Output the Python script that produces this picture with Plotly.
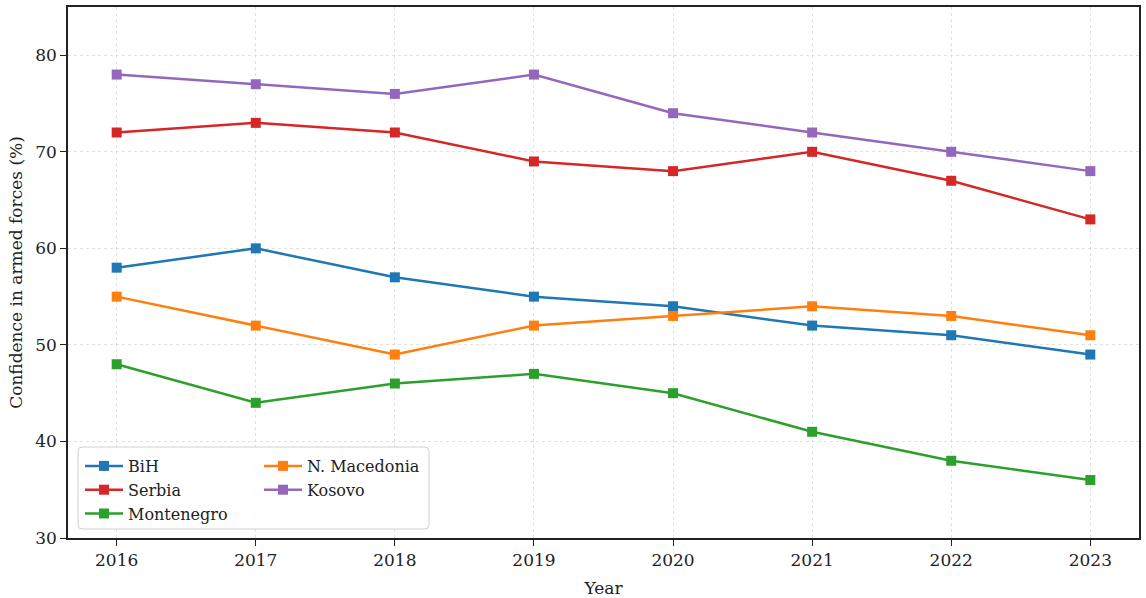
import plotly.graph_objects as go

years = [2016, 2017, 2018, 2019, 2020, 2021, 2022, 2023]
bih = [58, 60, 57, 55, 54, 52, 51, 49]
serbia = [72, 73, 72, 69, 68, 70, 67, 63]
montenegro = [48, 44, 46, 47, 45, 41, 38, 36]
n_macedonia = [55, 52, 49, 52, 53, 54, 53, 51]
kosovo = [78, 77, 76, 78, 74, 72, 70, 68]

series = [
    ("BiH", bih, "#1f77b4", "legend"),
    ("Serbia", serbia, "#d62728", "legend"),
    ("Montenegro", montenegro, "#2ca02c", "legend"),
    ("N. Macedonia", n_macedonia, "#ff7f0e", "legend2"),
    ("Kosovo", kosovo, "#9467bd", "legend2"),
]

FONT = "DejaVu Serif"

fig = go.Figure()
for name, vals, color, leg in series:
    fig.add_trace(go.Scatter(
        x=years, y=vals, name=name, mode="lines+markers",
        line=dict(color=color, width=2.5),
        marker=dict(symbol="square", size=10, color=color),
        legend=leg,
    ))

W, H = 1146, 598
ml, mr, mt, mb = 68, 7, 7, 60
pw, ph = W - ml - mr, H - mt - mb


def px_x(p):
    return (p - ml) / pw


def px_y(p):
    return (H - mb - p) / ph


# rounded legend frame
x0, x1, y0, y1 = 78, 429, 447, 529
r = 4
path = (
    f"M {px_x(x0 + r)},{px_y(y0)} L {px_x(x1 - r)},{px_y(y0)} "
    f"Q {px_x(x1)},{px_y(y0)} {px_x(x1)},{px_y(y0 + r)} "
    f"L {px_x(x1)},{px_y(y1 - r)} Q {px_x(x1)},{px_y(y1)} {px_x(x1 - r)},{px_y(y1)} "
    f"L {px_x(x0 + r)},{px_y(y1)} Q {px_x(x0)},{px_y(y1)} {px_x(x0)},{px_y(y1 - r)} "
    f"L {px_x(x0)},{px_y(y0 + r)} Q {px_x(x0)},{px_y(y0)} {px_x(x0 + r)},{px_y(y0)} Z"
)
fig.add_shape(type="path", path=path, xref="paper", yref="paper",
              line=dict(color="#d0d0d0", width=1),
              fillcolor="rgba(255,255,255,0.85)", layer="above")

legend_common = dict(
    bgcolor="rgba(0,0,0,0)", borderwidth=0,
    font=dict(family=FONT, size=16, color="#222"),
    xanchor="left", yanchor="top", tracegroupgap=0,
    itemwidth=38,
)

fig.update_layout(
    width=W, height=H,
    margin=dict(l=ml, r=mr, t=mt, b=mb),
    paper_bgcolor="white", plot_bgcolor="white",
    font=dict(family=FONT, size=17, color="#222"),
    legend=dict(x=px_x(80), y=px_y(449), **legend_common),
    legend2=dict(x=px_x(259), y=px_y(449), **legend_common),
    xaxis=dict(
        title=dict(text="Year", font=dict(size=17), standoff=13),
        automargin=False,
        range=[2015.65, 2023.35], tickmode="array", tickvals=years,
        ticktext=[str(y) for y in years],
        showline=True, linecolor="#222", linewidth=1.5, mirror=True,
        ticks="outside", ticklen=6, tickwidth=1.2, tickcolor="#222",
        showgrid=True, gridcolor="rgba(200,200,200,0.55)", griddash="dot", gridwidth=1,
        zeroline=False, tickfont=dict(size=17),
    ),
    yaxis=dict(
        title=dict(text="Confidence in armed forces (%)", font=dict(size=17), standoff=8),
        automargin=False,
        range=[30, 85], tickvals=[30, 40, 50, 60, 70, 80],
        showline=True, linecolor="#222", linewidth=1.5, mirror=True,
        ticks="outside", ticklen=6, tickwidth=1.2, tickcolor="#222",
        showgrid=True, gridcolor="rgba(200,200,200,0.55)", griddash="dot", gridwidth=1,
        zeroline=False, tickfont=dict(size=17),
    ),
)

fig.write_html("out.html")
